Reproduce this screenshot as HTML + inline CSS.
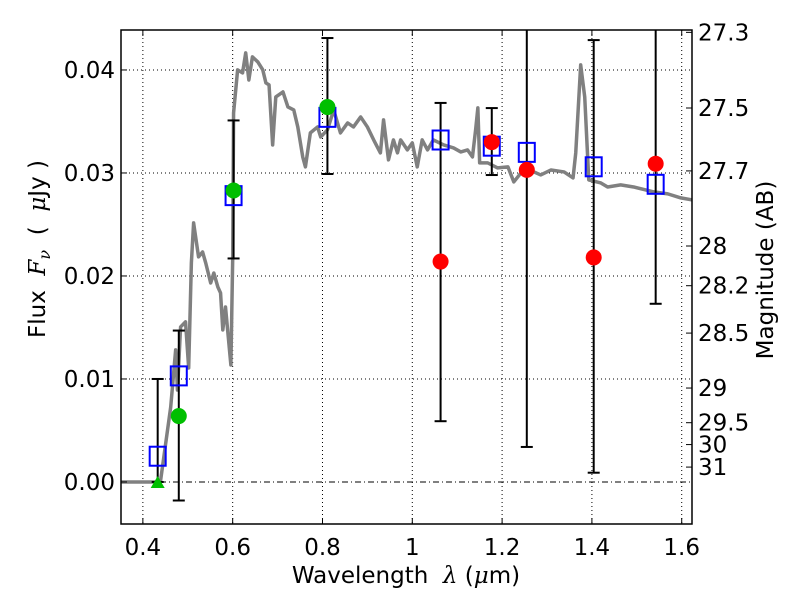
<!DOCTYPE html>
<html><head><meta charset="utf-8"><style>
body{margin:0;background:#fff}
svg text{font-family:"DejaVu Sans","Liberation Sans",sans-serif;font-size:23px;fill:#000}
.pre{white-space:pre}
</style></head><body>
<svg id="chart" width="800" height="600" xmlns="http://www.w3.org/2000/svg">
<rect width="800" height="600" fill="#fff"/>
<g id="grid"></g>
<g id="plot"></g>
<g id="axes"></g>
<text class="pre" x="406" y="583" text-anchor="middle">Wavelength  <tspan font-family="DejaVu Serif" font-style="italic">λ</tspan> (<tspan font-family="DejaVu Serif" font-style="italic">μ</tspan>m)</text>
<text class="pre" transform="translate(45,249) rotate(-90)" text-anchor="middle">Flux  <tspan font-family="DejaVu Serif" font-style="italic">F</tspan><tspan font-family="DejaVu Serif" font-style="italic" font-size="16" dy="5">ν</tspan><tspan dy="-5">  (  </tspan><tspan font-family="DejaVu Serif" font-style="italic">μ</tspan>Jy )</text>
<text transform="translate(773,270) rotate(-90)" text-anchor="middle">Magnitude (AB)</text>
</svg>
<script>
const curveLam=[0.35,0.433,0.439,0.462,0.473,0.477,0.484,0.495,0.502,0.508,0.513,0.524,0.533,0.540,0.551,0.558,0.567,0.573,0.578,0.584,0.596,0.600,0.602,0.611,0.622,0.629,0.636,0.644,0.656,0.667,0.674,0.681,0.689,0.696,0.712,0.723,0.736,0.745,0.756,0.762,0.773,0.789,0.796,0.811,0.825,0.840,0.856,0.869,0.885,0.900,0.914,0.929,0.936,0.947,0.958,0.967,0.974,0.989,1.000,1.011,1.022,1.034,1.047,1.070,1.092,1.108,1.123,1.134,1.141,1.146,1.150,1.168,1.190,1.213,1.226,1.242,1.271,1.286,1.309,1.338,1.358,1.364,1.375,1.384,1.393,1.420,1.435,1.464,1.493,1.538,1.569,1.598,1.624];
const curveFlux=[0,0,0,0.00728,0.01282,0.00893,0.01505,0.01554,0.01107,0.02126,0.02515,0.02185,0.02233,0.02126,0.01932,0.02029,0.01893,0.01835,0.01476,0.01699,0.01136,0.02156,0.03583,0.04001,0.03971,0.04166,0.03903,0.04127,0.04078,0.04001,0.03874,0.03855,0.03272,0.03738,0.03787,0.03641,0.03612,0.03447,0.03156,0.03059,0.03389,0.03447,0.03350,0.03418,0.03612,0.03389,0.03486,0.03447,0.03544,0.03447,0.03321,0.03195,0.03515,0.03127,0.03321,0.03195,0.03321,0.03224,0.03292,0.03059,0.03321,0.03224,0.03321,0.03272,0.03243,0.03204,0.03224,0.03156,0.03418,0.03632,0.03098,0.03098,0.03049,0.03059,0.02913,0.03000,0.03010,0.02981,0.03029,0.03010,0.02952,0.03195,0.04049,0.03738,0.02932,0.02903,0.02864,0.02884,0.02864,0.02816,0.02797,0.02758,0.02738];
const bandLam=[0.433,0.480,0.602,0.811,1.063,1.177,1.255,1.404,1.542];
const modelFlux=[0.0025,0.0103,0.0278,0.0354,0.0332,0.0326,0.0320,0.0306,0.0289];
const errLo=[0,-0.0018,0.0217,0.0299,0.0059,0.0298,0.0034,0.0009,0.0173];
const errHi=[0.0100,0.0147,0.0351,0.0431,0.0368,0.0363,0.06,0.0429,0.06];
const greenLam=[0.480,0.602,0.811];
const greenFlux=[0.0064,0.0283,0.0364];
const triLam=[0.433];
const triFlux=[0];
const redLam=[1.063,1.177,1.255,1.404,1.542];
const redFlux=[0.0214,0.0330,0.0303,0.0218,0.0309];
const xTicks=[0.4,0.6,0.8,1.0,1.2,1.4,1.6];
const xTickLabels=["0.4","0.6","0.8","1","1.2","1.4","1.6"];
const yTicks=[0,0.01,0.02,0.03,0.04];
const yTickLabels=["0.00","0.01","0.02","0.03","0.04"];
const magTicks=[27.3,27.5,27.7,28,28.2,28.5,29,29.5,30,31];

const L=121,R=692,T=30,B=524;
const xMin=0.3513,xMax=1.6229,yMin=-0.00408,yMax=0.04388;
const X=v=>L+(v-xMin)/(xMax-xMin)*(R-L);
const Y=v=>B-(v-yMin)/(yMax-yMin)*(B-T);
const NS="http://www.w3.org/2000/svg";
function mk(tag,attrs,parent){const e=document.createElementNS(NS,tag);for(const k in attrs)e.setAttribute(k,attrs[k]);parent.appendChild(e);return e;}
const grid=document.getElementById('grid'),plot=document.getElementById('plot'),axes=document.getElementById('axes');

xTicks.forEach((t,i)=>{
  const g=mk('line',{x1:X(t),x2:X(t),y1:T,y2:B,stroke:'#000','stroke-width':1,'stroke-dasharray':'1,3'},grid);
  
  
  mk('line',{x1:X(t),x2:X(t),y1:B,y2:B-6,stroke:'#000'},axes);
  mk('line',{x1:X(t),x2:X(t),y1:T,y2:T+6,stroke:'#000'},axes);
  const tx=mk('text',{x:X(t),y:B+31,'text-anchor':'middle'},axes);
  tx.textContent=xTickLabels[i];
  
  
});
yTicks.forEach((t,i)=>{
  const g=mk('line',{x1:L,x2:R,y1:Y(t),y2:Y(t),stroke:'#000','stroke-width':1,'stroke-dasharray':t===0?'6,3,1,3':'1,3'},grid);
  
  
  mk('line',{x1:L,x2:L+6,y1:Y(t),y2:Y(t),stroke:'#000'},axes);
  const tx=mk('text',{x:L-6,y:Y(t)+8,'text-anchor':'end'},axes);
  tx.textContent=yTickLabels[i];
  
  
});
magTicks.forEach(m=>{
  const f=Math.pow(10,(23.9-m)/2.5);
  mk('line',{x1:R-6,x2:R,y1:Y(f),y2:Y(f),stroke:'#000'},axes);
  const tx=mk('text',{x:R+6,y:Y(f)+8},axes);
  tx.textContent=String(m);
  
  
});

const cg=document.createElementNS(NS,'g');
cg.setAttribute('clip-path','url(#clip)');
plot.appendChild(cg);
const defs=mk('defs',{},plot);
const cp=mk('clipPath',{id:'clip'},defs);
mk('rect',{x:L,y:T,width:R-L,height:B-T},cp);
const curve=mk('polyline',{points:curveLam.map((l,i)=>X(l)+','+Y(curveFlux[i])).join(' '),fill:'none',stroke:'#808080','stroke-width':3.5,'stroke-linejoin':'round'},cg);



bandLam.forEach((l,i)=>{
  const x=X(l);
  const e=mk('line',{x1:x,x2:x,y1:Y(errLo[i]),y2:Y(errHi[i]),stroke:'#000','stroke-width':2},cg);
  
  
  [errLo[i],errHi[i]].forEach(v=>mk('line',{x1:x-6,x2:x+6,y1:Y(v),y2:Y(v),stroke:'#000','stroke-width':2},cg));
});
bandLam.forEach((l,i)=>{
  const s=mk('rect',{x:X(l)-8,y:Y(modelFlux[i])-9.5,width:16,height:19,fill:'none',stroke:'#0000ff','stroke-width':2},cg);
  
  
});
greenLam.forEach((l,i)=>{
  const c=mk('circle',{cx:X(l),cy:Y(greenFlux[i]),r:8,fill:'#00bf00'},cg);
  
  
});
triLam.forEach((l,i)=>{
  const x=X(l),y=Y(triFlux[i]);
  const t=mk('polygon',{points:`${x-7},${y+6} ${x+7},${y+6} ${x},${y-6}`,fill:'#00bf00'},cg);
  
  
});
redLam.forEach((l,i)=>{
  const c=mk('circle',{cx:X(l),cy:Y(redFlux[i]),r:8,fill:'#ff0000'},cg);
  
  
});
const frame=mk('rect',{x:L,y:T,width:R-L,height:B-T,fill:'none',stroke:'#000','stroke-width':1.5},axes);


</script>
</body></html>
